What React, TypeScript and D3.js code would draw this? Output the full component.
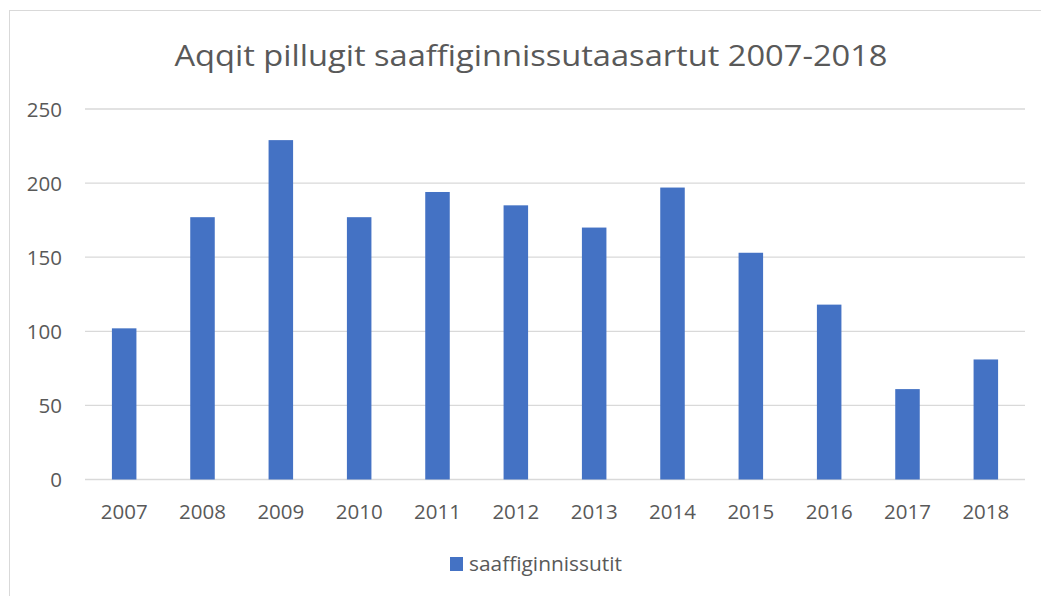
import React from "react";
import * as d3 from "d3";

const categories = ["2007","2008","2009","2010","2011","2012","2013","2014","2015","2016","2017","2018"];
const values = [102,177,229,177,194,185,170,197,153,118,61,81];
const yTicks = [0,50,100,150,200,250];
const title = "Aqqit pillugit saaffiginnissutaasartut 2007-2018";
const seriesName = "saaffiginnissutit";

export default function App() {
  const W = 1041, H = 596;
  const left = 85, right = 1025, top = 109, bottom = 479.5;
  const x = d3.scaleBand().domain(categories).range([left, right]).paddingInner(0.687).paddingOuter(0.3435);
  const y = d3.scaleLinear().domain([0, 250]).range([bottom, top]);
  const font = "'Open Sans', 'Noto Sans', sans-serif";
  const grey = "#595959";
  return (
    <svg width={W} height={H} style={{ position: "absolute", left: 0, top: 0, background: "#fff" }}>
      <rect x={9.5} y={10.5} width={W + 10} height={H + 10} fill="#fff" stroke="#d9d9d9" strokeWidth={1} />
      <text x={531} y={66} textAnchor="middle" fontFamily={font} fontSize={29} fill={grey} textLength={713} lengthAdjust="spacingAndGlyphs">{title}</text>
      {yTicks.map(t => (
        <g key={t}>
          <line x1={left} x2={right} y1={y(t)} y2={y(t)} stroke="#d9d9d9" strokeWidth={1.3} />
          <text x={62} y={y(t) + 7.5} textAnchor="end" fontFamily={font} fontSize={20.5} fill={grey}>{t}</text>
        </g>
      ))}
      {categories.map((c, i) => (
        <rect key={c} x={x(c)} y={y(values[i])} width={x.bandwidth()} height={bottom - y(values[i])} fill="#4472c4" />
      ))}
      {categories.map(c => (
        <text key={c} x={(x(c) as number) + x.bandwidth() / 2} y={518.5} textAnchor="middle" fontFamily={font} fontSize={20.5} fill={grey}>{c}</text>
      ))}
      <rect x={450} y={557} width={13} height={14} fill="#4472c4" />
      <text x={469} y={571} fontFamily={font} fontSize={20.5} fill={grey} textLength={153} lengthAdjust="spacingAndGlyphs">{seriesName}</text>
    </svg>
  );
}
